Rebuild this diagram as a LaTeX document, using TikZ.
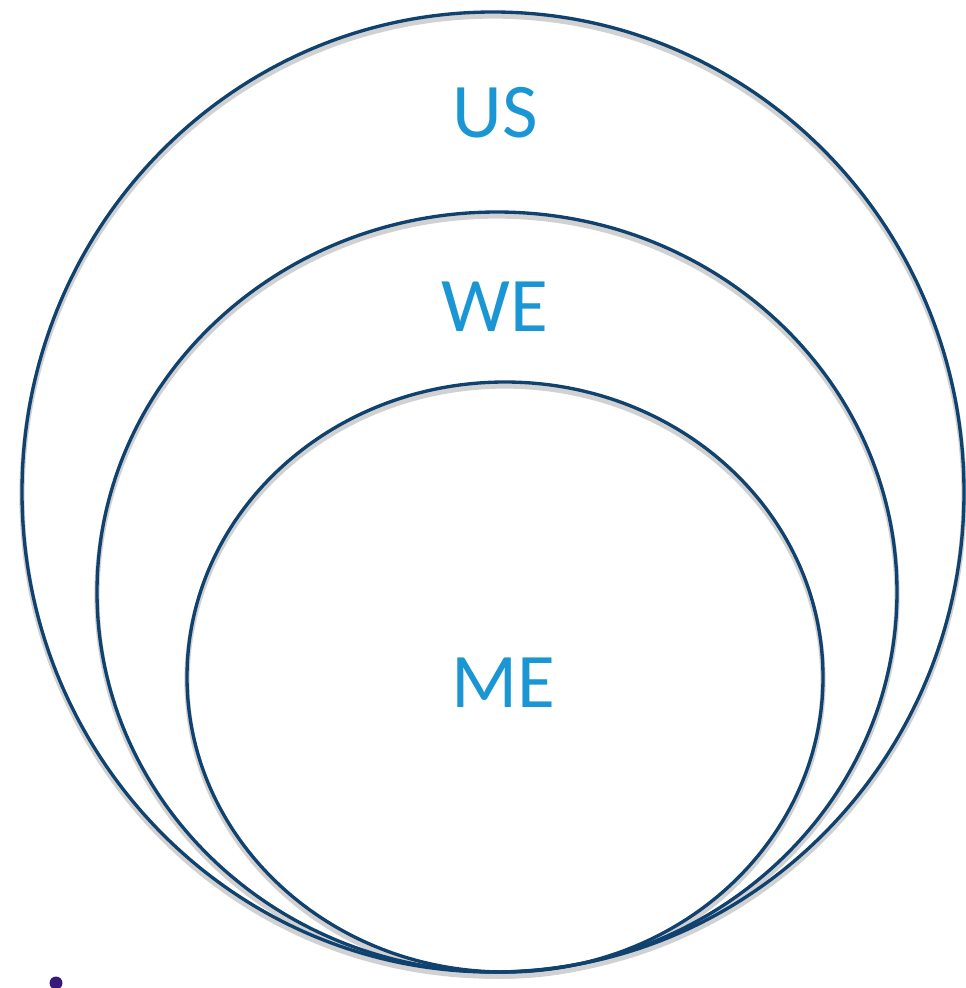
\documentclass[tikz,border=0pt]{standalone}
\usepackage{fontspec}
\setmainfont{Carlito}
\usepackage{tikz}
\definecolor{ringblue}{HTML}{10426F}
\definecolor{labelblue}{HTML}{1A96D4}
\definecolor{dotpurple}{HTML}{3A1A78}

\begin{document}
\begin{tikzpicture}[x=0.02cm,y=-0.02cm]
\tikzstyle{ring}=[ringblue, line width=1.9pt]
\tikzstyle{ringshadow}=[black!18, line width=3pt]
\tikzstyle{word}=[labelblue, font=\fontsize{44}{44}\selectfont, inner sep=0pt]
\useasboundingbox (0,0) rectangle (966,988);
\fill [white] (0,0) rectangle (966,988);
% shadows
\draw [ringshadow] (493,496) ellipse [x radius=471, y radius=480];
\draw [ringshadow] (497,596) ellipse [x radius=400, y radius=380];
\draw [ringshadow] (505,681) ellipse [x radius=318, y radius=295];
% rings
\draw [ring] (493,492) ellipse [x radius=471, y radius=480];
\draw [ring] (497,592) ellipse [x radius=400, y radius=380];
\draw [ring] (505,677) ellipse [x radius=318, y radius=295];
\node [word] (us) at (495,113) {US};
\node [word] (we) at (495,307) {WE};
\node [word] (me) at (503,683) {ME};
\fill [dotpurple] (56,983) circle (6.5);
\end{tikzpicture}
\end{document}
